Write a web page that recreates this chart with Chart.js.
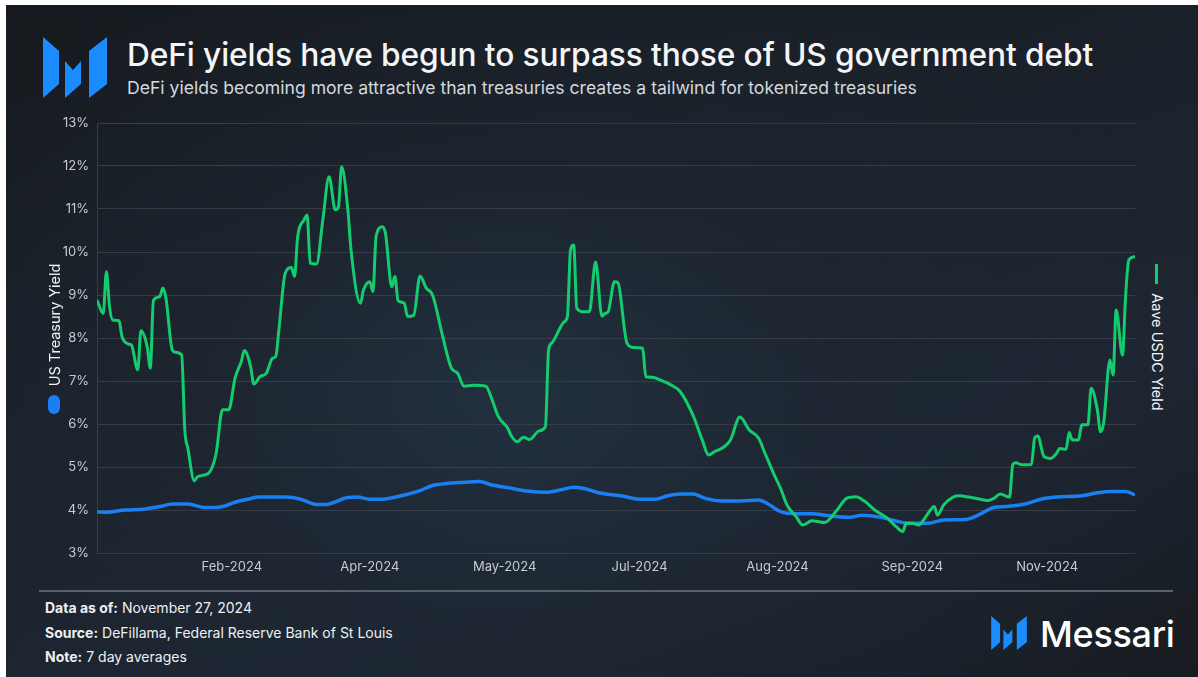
<!DOCTYPE html>
<html>
<head>
<meta charset="utf-8">
<script src="https://cdn.jsdelivr.net/npm/chart.js@4.4.1/dist/chart.umd.min.js"></script>
<style>
  html, body { margin: 0; padding: 0; background: #ffffff; }
  body { width: 1198px; height: 677px; position: relative; overflow: hidden; font-family: Inter, 'Noto Sans', sans-serif; }
  #card {
    position: absolute; left: 6px; top: 5px; width: 1192px; height: 672px; overflow: hidden;
    background:
      radial-gradient(ellipse 60% 75% at 42% 58%, rgba(35,50,66,0.85) 0%, rgba(30,40,52,0.5) 45%, rgba(22,25,30,0) 100%),
      linear-gradient(160deg, #16191d 0%, #1b222b 45%, #1d2632 70%, #181c22 100%);
  }
  .abs { position: absolute; }
  #title { left: 121px; top: 31px; font-size: 31.7px; font-weight: 500; color: #f4f5f7; white-space: nowrap; line-height: 38px; letter-spacing: -0.1px; }
  #subtitle { left: 121px; top: 72px; font-size: 17.6px; color: #d4d8de; white-space: nowrap; line-height: 22px; }
  #chart { left: 14px; top: 100px; }
  .rot { white-space: nowrap; font-size: 14.5px; color: #f2f3f5; line-height: 16px; }
  #legLeft { left: 49px; top: 320px; transform: translate(-50%, -50%) rotate(-90deg); }
  #pill { left: 42px; top: 390px; width: 12px; height: 19px; border-radius: 6px; background: #1a7ff2; }
  #legRight { left: 1151px; top: 347px; transform: translate(-50%, -50%) rotate(90deg); }
  #dash { left: 1149px; top: 259px; width: 3px; height: 20px; background: #14cc6e; }
  #rule { left: 33px; top: 585px; width: 1134px; height: 2px; background: #5b6168; }
  .foot { left: 39px; font-size: 14px; color: #eef0f2; white-space: nowrap; line-height: 18px; }
  .foot b { font-weight: 700; }
  #f1 { top: 594px; }
  #f2 { top: 619px; }
  #f3 { top: 643px; }
  #brand { left: 1034px; top: 607px; font-size: 36px; font-weight: 500; color: #ffffff; line-height: 44px; letter-spacing: -0.3px; }
</style>
</head>
<body>
<div id="card">
  <svg class="abs" style="left:37px;top:32px" width="64" height="61" viewBox="0 0 64 61">
    <g fill="#1a8cff">
      <polygon points="0,0 16,14 16,47 0,61"/>
      <polygon points="22,24 30,33 38,24 38,47 22,61"/>
      <polygon points="46,14 64,0 64,47 46,61"/>
    </g>
  </svg>
  <div id="title" class="abs">DeFi yields have begun to surpass those of US government debt</div>
  <div id="subtitle" class="abs">DeFi yields becoming more attractive than treasuries creates a tailwind for tokenized treasuries</div>

  <canvas id="chart" class="abs" width="1125" height="475"></canvas>

  <div id="legLeft" class="abs rot">US Treasury Yield</div>
  <div id="pill" class="abs"></div>
  <div id="dash" class="abs"></div>
  <div id="legRight" class="abs rot">Aave USDC Yield</div>

  <div id="rule" class="abs"></div>
  <div id="f1" class="abs foot"><b>Data as of:</b> November 27, 2024</div>
  <div id="f2" class="abs foot"><b>Source:</b> DeFillama, Federal Reserve Bank of St Louis</div>
  <div id="f3" class="abs foot"><b>Note:</b> 7 day averages</div>

  <svg class="abs" style="left:985px;top:611px" width="36" height="34" viewBox="0 0 64 61">
    <g fill="#1a8cff">
      <polygon points="0,0 16,14 16,47 0,61"/>
      <polygon points="22,24 30,33 38,24 38,47 22,61"/>
      <polygon points="46,14 64,0 64,47 46,61"/>
    </g>
  </svg>
  <div id="brand" class="abs">Messari</div>
</div>

<script>
'use strict';

// x values are days since 1 Jan 2024 (last point = 27 Nov 2024)
const aaveDays = [
  0, 2, 3, 4, 5, 7, 8, 10, 11, 13, 14, 16, 17, 18, 20, 21, 22, 24, 25, 27,
  28, 29, 31, 32, 34, 36, 38, 40, 42, 44, 46, 47, 49, 50, 52, 54, 56, 57, 58, 60,
  62, 63, 64, 66, 67, 68, 70, 72, 74, 76, 77, 78, 80, 81, 84, 85, 87, 88, 89, 91,
  92, 94, 95, 96, 98, 99, 101, 103, 105, 107, 110, 113, 115, 117, 120, 124, 126, 128, 131, 132,
  134, 136, 138, 141, 143, 144, 145, 149, 150, 151, 152, 153, 155, 157, 159, 161, 162, 163, 165, 166,
  169, 171, 174, 175, 177, 180, 183, 186, 190, 193, 195, 197, 200, 202, 205, 208, 211, 213, 216, 218,
  220, 223, 225, 228, 230, 232, 236, 239, 242, 245, 248, 252, 255, 257, 258, 260, 262, 264, 265, 267,
  268, 270, 273, 275, 278, 281, 284, 286, 288, 291, 292, 293, 295, 298, 299, 300, 302, 304, 306, 307,
  309, 310, 311, 313, 314, 316, 317, 319, 320, 321, 323, 324, 325, 327, 328, 329, 331,
];
const aaveYield = [
  8.88, 8.57, 9.54, 8.73, 8.42, 8.40, 8.03, 7.86, 7.83, 7.26, 8.17, 7.80, 7.30, 8.88, 8.96, 9.16, 8.92, 7.72, 7.67, 7.60,
  5.86, 5.43, 4.68, 4.77, 4.81, 4.89, 5.32, 6.33, 6.33, 7.06, 7.45, 7.71, 7.33, 6.93, 7.10, 7.18, 7.53, 7.57, 8.19, 9.50,
  9.64, 9.43, 10.36, 10.74, 10.86, 9.74, 9.72, 10.74, 11.75, 10.98, 11.05, 11.98, 10.98, 10.05, 8.81, 9.12, 9.31, 9.08, 10.36, 10.59,
  10.43, 9.19, 9.43, 8.87, 8.81, 8.50, 8.53, 9.44, 9.16, 9.00, 8.11, 7.30, 7.18, 6.88, 6.90, 6.88, 6.56, 6.17, 5.90, 5.74,
  5.59, 5.69, 5.64, 5.84, 5.94, 7.72, 7.88, 8.38, 8.50, 10.05, 10.16, 8.69, 8.61, 8.61, 9.77, 8.51, 8.57, 8.61, 9.31, 9.30,
  7.88, 7.78, 7.76, 7.10, 7.09, 7.01, 6.91, 6.75, 6.21, 5.63, 5.28, 5.36, 5.47, 5.63, 6.16, 5.86, 5.67, 5.32, 4.81, 4.50,
  4.12, 3.84, 3.65, 3.75, 3.73, 3.71, 4.00, 4.27, 4.31, 4.19, 4.00, 3.81, 3.60, 3.50, 3.69, 3.69, 3.65, 3.81, 3.92, 4.08,
  3.88, 4.12, 4.30, 4.33, 4.30, 4.26, 4.22, 4.27, 4.37, 4.30, 5.05, 5.10, 5.05, 5.06, 5.67, 5.72, 5.24, 5.20, 5.32, 5.43,
  5.41, 5.80, 5.63, 5.63, 5.98, 5.98, 6.83, 6.33, 5.82, 6.02, 7.49, 7.14, 8.65, 7.60, 8.96, 9.81, 9.89,
];

const treasuryDays = [
  0, 3, 9, 15, 20, 24, 29, 34, 38, 41, 44, 48, 52, 60, 65, 70, 73, 80, 83, 87,
  91, 97, 103, 107, 112, 116, 122, 126, 131, 137, 143, 148, 152, 156, 160, 167, 173, 178, 182, 186,
  190, 194, 199, 205, 211, 214, 218, 223, 228, 233, 240, 244, 250, 255, 259, 265, 270, 277, 281, 286,
  290, 296, 301, 306, 314, 319, 323, 328, 331,
];
const treasuryYield = [
  3.96, 3.95, 4.00, 4.02, 4.08, 4.14, 4.14, 4.06, 4.06, 4.10, 4.18, 4.25, 4.30, 4.30, 4.25, 4.13, 4.13, 4.29, 4.30, 4.25,
  4.25, 4.33, 4.45, 4.57, 4.62, 4.64, 4.66, 4.58, 4.52, 4.44, 4.41, 4.47, 4.53, 4.49, 4.40, 4.33, 4.25, 4.25, 4.33, 4.37,
  4.37, 4.27, 4.21, 4.21, 4.23, 4.14, 3.96, 3.91, 3.91, 3.87, 3.83, 3.88, 3.83, 3.74, 3.69, 3.69, 3.77, 3.78, 3.88, 4.06,
  4.08, 4.14, 4.25, 4.30, 4.33, 4.40, 4.43, 4.43, 4.35,
];

const tickDays   = [43, 87, 130, 173, 217, 260, 303];
const tickLabels = ['Feb-2024', 'Apr-2024', 'May-2024', 'Jul-2024', 'Aug-2024', 'Sep-2024', 'Nov-2024'];

const GRID_COLOR = '#373d46';
const TICK_COLOR = '#c6cbd2';
const tickFont   = { family: 'Inter', size: 13 };

const toPoints = (xs, ys) => xs.map((x, i) => ({ x: x, y: ys[i] }));

new Chart(document.getElementById('chart'), {
  type: 'line',
  data: {
    datasets: [
      {
        label: 'Aave USDC Yield',
        data: toPoints(aaveDays, aaveYield),
        borderColor: '#14cc6e',
        borderWidth: 3,
        pointRadius: 0,
        cubicInterpolationMode: 'monotone',
      },
      {
        label: 'US Treasury Yield',
        data: toPoints(treasuryDays, treasuryYield),
        borderColor: '#1a7ff2',
        borderWidth: 3.5,
        pointRadius: 0,
        cubicInterpolationMode: 'monotone',
      },
    ],
  },
  options: {
    responsive: false,
    animation: false,
    layout: { padding: { left: 9, right: 10, top: 18, bottom: 0 } },
    plugins: { legend: { display: false }, tooltip: { enabled: false } },
    scales: {
      x: {
        type: 'linear',
        min: 0,
        max: 331,
        grid: { display: false, drawTicks: false },
        border: { display: false },
        afterBuildTicks: s => { s.ticks = tickDays.map(v => ({ value: v })); },
        afterFit: s => { s.height = 27; },
        ticks: {
          color: TICK_COLOR, font: tickFont, padding: 6,
          autoSkip: false, maxRotation: 0,
          callback: (v, i) => tickLabels[i],
        },
      },
      y: {
        min: 3,
        max: 13,
        afterFit: s => { s.width = 68; },
        grid: { color: GRID_COLOR, drawTicks: false },
        border: { display: true, color: GRID_COLOR },
        ticks: {
          stepSize: 1, color: TICK_COLOR, font: tickFont, padding: 8,
          callback: v => v + '%',
        },
      },
    },
  },
});
</script>
</body>
</html>
